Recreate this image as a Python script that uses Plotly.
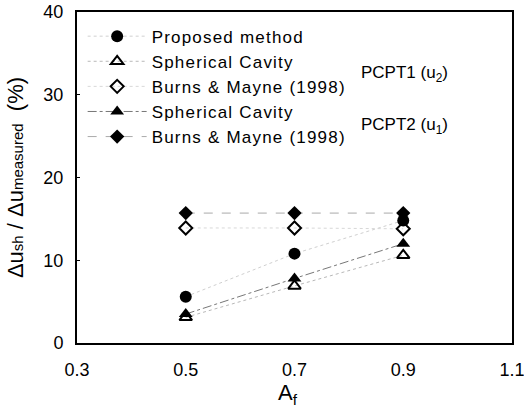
import plotly.graph_objects as go

af = [0.5, 0.7, 0.9]
proposed = [5.6, 10.8, 14.8]
sc_pcpt1 = [3.1, 6.9, 10.6]
bm_pcpt1 = [13.9, 13.9, 13.8]
sc_pcpt2 = [3.5, 7.8, 12.0]
bm_pcpt2 = [15.7, 15.7, 15.7]

x_ticks = [0.3, 0.5, 0.7, 0.9, 1.1]
y_ticks = [0, 10, 20, 30, 40]

FONT = "Arial, Liberation Sans, sans-serif"


def spaced(t):
    return f"<span style='letter-spacing:1.2px'>{t}</span>"


fig = go.Figure()

fig.add_trace(go.Scatter(
    x=af, y=proposed, name=spaced("Proposed method"), mode="lines+markers",
    marker=dict(symbol="circle", size=12, color="black"),
    line=dict(color="#d0d0d0", width=1, dash="dot")))
fig.add_trace(go.Scatter(
    x=af, y=sc_pcpt1, name=spaced("Spherical Cavity"), mode="lines+markers",
    marker=dict(symbol="triangle-up-open", size=11, color="black", line=dict(width=2)),
    line=dict(color="#b8b8b8", width=1, dash="dot")))
fig.add_trace(go.Scatter(
    x=af, y=bm_pcpt1, name=spaced("Burns & Mayne (1998)"), mode="lines+markers",
    marker=dict(symbol="diamond-open", size=10, color="black", line=dict(width=2)),
    line=dict(color="#d8d8d8", width=1, dash="dot")))
fig.add_trace(go.Scatter(
    x=af, y=sc_pcpt2, name=spaced("Spherical Cavity"), mode="lines+markers",
    marker=dict(symbol="triangle-up", size=12, color="black"),
    line=dict(color="#777777", width=1, dash="dashdot")))
fig.add_trace(go.Scatter(
    x=af, y=bm_pcpt2, name=spaced("Burns & Mayne (1998)"), mode="lines+markers",
    marker=dict(symbol="diamond", size=11, color="black"),
    line=dict(color="#aaaaaa", width=1, dash="dash")))

fig.add_annotation(x=0.648, y=0.812, xref="paper", yref="paper", xanchor="left", yanchor="middle",
                   text="PCPT1 (u<sub>2</sub>)", showarrow=False, font=dict(size=17, color="black", family=FONT))
fig.add_annotation(x=0.648, y=0.656, xref="paper", yref="paper", xanchor="left", yanchor="middle",
                   text="PCPT2 (u<sub>1</sub>)", showarrow=False, font=dict(size=17, color="black", family=FONT))
fig.add_annotation(x=0.485, y=-0.105, xref="paper", yref="paper", xanchor="center", yanchor="top",
                   text="A<sub>f</sub>", showarrow=False, font=dict(size=22, color="black", family=FONT))

fig.update_layout(
    width=524, height=414,
    margin=dict(l=77, r=12, t=12, b=71),
    paper_bgcolor="white", plot_bgcolor="white",
    font=dict(family=FONT, color="black", size=18),
    showlegend=True,
    legend=dict(x=0.013, y=0.98, xanchor="left", yanchor="top",
                bgcolor="rgba(0,0,0,0)", font=dict(size=17, family=FONT),
                itemwidth=59, tracegroupgap=0),
    xaxis=dict(range=[0.3, 1.1000001], tickvals=x_ticks, ticktext=[f"{v:.1f}" for v in x_ticks],
               showgrid=False, zeroline=False, showline=True, mirror=True, automargin=False,
               linecolor="black", linewidth=2, ticks="", ticklabelstandoff=9,
               ticklabeloverflow="allow"),
    yaxis=dict(range=[0, 40], tickvals=y_ticks, showgrid=False, zeroline=False, automargin=False,
               showline=True, mirror=True, linecolor="black", linewidth=2,
               ticks="inside", ticklen=3, tickcolor="black", ticklabelstandoff=8,
               title=dict(text="Δu<span style='font-size:15px'>sh</span> / Δu<span style='font-size:15px'>measured</span>  (%)",
                          font=dict(size=22), standoff=14)),
)

fig.write_html("out.html", config={"displayModeBar": False},
               post_script="document.body.style.margin='0px';document.body.style.padding='0px';")
